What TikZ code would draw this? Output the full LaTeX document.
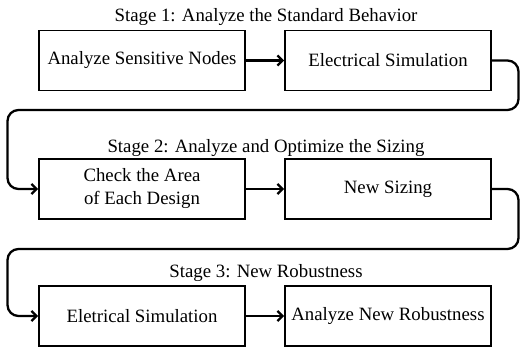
\documentclass[tikz,border=0pt]{standalone}
\usepackage{fontspec}
\setmainfont{Liberation Serif}
\usetikzlibrary{arrows.meta}
\begin{document}
\begin{tikzpicture}[x=1pt,y=-1pt,
  stepbox/.style={draw, line width=1.9pt, minimum width=206pt, minimum height=60pt,
    inner sep=0pt, align=center, font=\fontsize{18.8}{23}\selectfont},
  stagelabel/.style={font=\fontsize{18.8}{23}\selectfont, inner sep=0pt, anchor=base},
  tip/.style={-{Straight Barb[length=5pt,width=10pt,line width=2.3pt]}},
  flow/.style={line width=2.3pt, tip},
  link/.style={line width=2.3pt, rounded corners=11pt, tip}]
\useasboundingbox (0,0) rectangle (520,347);

% stage titles
\node[stagelabel] (s1) at (266,22) {Stage 1: Analyze the Standard Behavior};
\node[stagelabel] (s2) at (266,153) {Stage 2: Analyze and Optimize the Sizing};
\node[stagelabel] (s3) at (266,278) {Stage 3: New Robustness};

% process steps
\node[stepbox] (a) at (142,60.5) {Analyze Sensitive Nodes};
\node[stepbox] (b) at (388,60.5) {Electrical Simulation};
\node[stepbox] (c) at (142,189) {Check the Area\\of Each Design};
\node[stepbox] (d) at (388,189) {New Sizing};
\node[stepbox] (e) at (142,316) {Eletrical Simulation};
\node[stepbox] (f) at (388,316) {Analyze New Robustness};

% arrows within each stage
\draw[flow] (a) -- (b);
\draw[flow] (c) -- (d);
\draw[flow] (e) -- (f);

% return paths between stages
\coordinate (r1) at (518.5,110);
\coordinate (l1) at (7.5,110);
\coordinate (r2) at (518.5,249);
\coordinate (l2) at (7.5,249);
\draw[link] (b.east) -| (r1) -- (l1) |- (c.west);
\draw[link] (d.east) -| (r2) -- (l2) |- (e.west);
\end{tikzpicture}
\end{document}
